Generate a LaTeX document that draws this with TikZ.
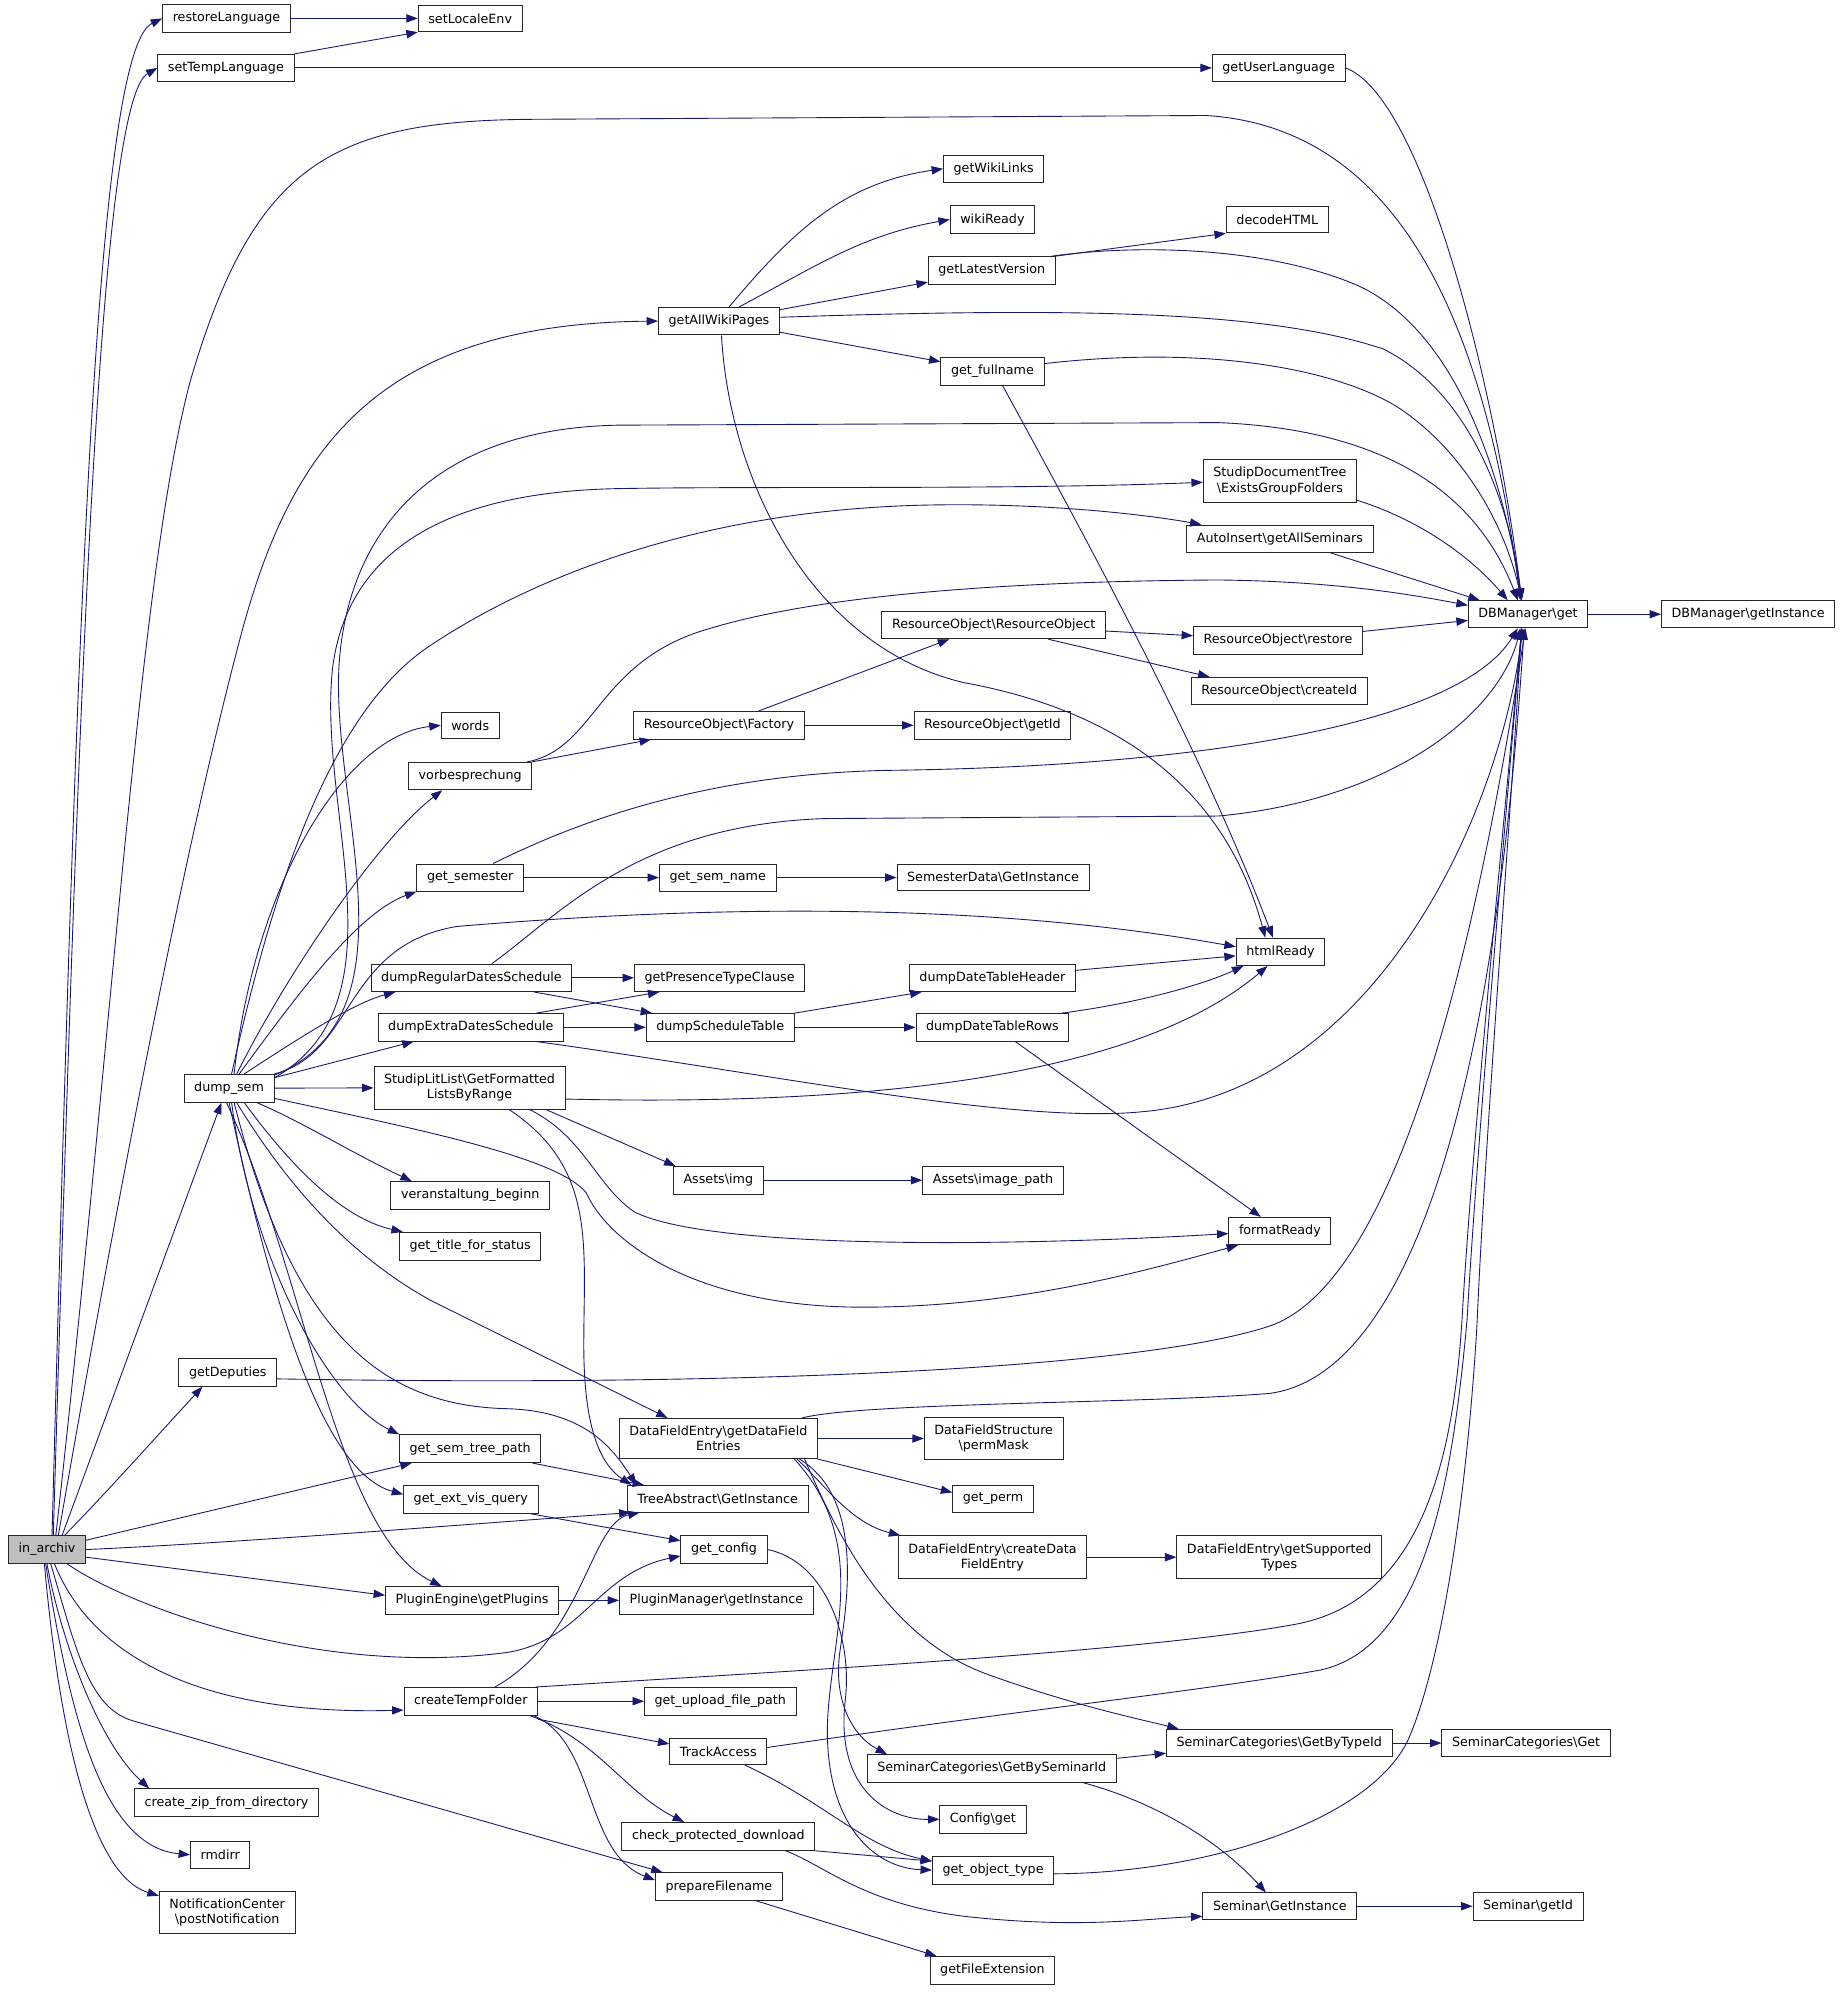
\documentclass[tikz,border=0pt]{standalone}
\usepackage{fontspec}
\setmainfont{DejaVu Sans}
\usepackage{xcolor}
\usetikzlibrary{arrows.meta}
\definecolor{callblue}{HTML}{191970}
\definecolor{rootgray}{HTML}{BFBFBF}

\begin{document}
\begin{tikzpicture}[x=1pt,y=1pt,
  fn/.style={draw=black!85,line width=0.7pt,fill=white,inner xsep=8pt,inner ysep=6pt,
    minimum height=21pt,align=center,font=\fontsize{10}{12}\selectfont},
  root/.style={fn,fill=rootgray},
  call/.style={draw=callblue,line width=0.7pt,-{Triangle[length=9pt,width=6.5pt]}}]
\useasboundingbox (0,0) rectangle (1456,-1572);
\fill[white] (0,0) rectangle (1456,-1572);

%Draw functions, column by column
\node[root] (inarchiv) at (37,-1221) {in\_archiv};

\node[fn] (restoreLang) at (178.5,-14.5) {restoreLanguage};
\node[fn] (setTempLang) at (178,-53.5) {setTempLanguage};
\node[fn] (dumpSem) at (180.5,-857.5) {dump\_sem};
\node[fn] (getDeputies) at (179.5,-1081.5) {getDeputies};
\node[fn] (createZip) at (178.5,-1420.5) {create\_zip\_from\_directory};
\node[fn] (rmdirr) at (173.5,-1461.5) {rmdirr};
\node[fn] (notifyPost) at (179,-1507) {NotificationCenter\\\textbackslash postNotification};

\node[fn] (setLocale) at (370.5,-14.5) {setLocaleEnv};
\node[fn] (words) at (370.5,-571.5) {words};
\node[fn] (vorbesp) at (370.5,-611.5) {vorbesprechung};
\node[fn] (getSemester) at (370.5,-691.5) {get\_semester};
\node[fn] (dumpRegular) at (371.5,-770.5) {dumpRegularDatesSchedule};
\node[fn] (dumpExtra) at (371,-809.5) {dumpExtraDatesSchedule};
\node[fn] (litList) at (370,-857) {StudipLitList\textbackslash GetFormatted\\ListsByRange};
\node[fn] (veranstBeginn) at (370.5,-942) {veranstaltung\_beginn};
\node[fn] (titleStatus) at (370.5,-982) {get\_title\_for\_status};
\node[fn] (semTreePath) at (370.5,-1141.5) {get\_sem\_tree\_path};
\node[fn] (extVisQuery) at (371,-1181.5) {get\_ext\_vis\_query};
\node[fn] (pluginsGet) at (372,-1261) {PluginEngine\textbackslash getPlugins};
\node[fn] (createTemp) at (371,-1340.5) {createTempFolder};

\node[fn] (getAllWiki) at (566.5,-253) {getAllWikiPages};
\node[fn] (resFactory) at (566.5,-571.5) {ResourceObject\textbackslash Factory};
\node[fn] (getSemName) at (565.5,-691.5) {get\_sem\_name};
\node[fn] (presenceClause) at (567,-770.5) {getPresenceTypeClause};
\node[fn] (scheduleTable) at (567.5,-809.5) {dumpScheduleTable};
\node[fn] (assetsImg) at (566,-930) {Assets\textbackslash img};
\node[fn] (dfEntries) at (566,-1133.5) {DataFieldEntry\textbackslash getDataField\\Entries};
\node[fn] (treeInst) at (565.5,-1181) {TreeAbstract\textbackslash GetInstance};
\node[fn] (getConfig) at (570.5,-1221) {get\_config};
\node[fn] (pluginMgr) at (564.5,-1261) {PluginManager\textbackslash getInstance};
\node[fn] (uploadPath) at (567.5,-1340.5) {get\_upload\_file\_path};
\node[fn] (trackAccess) at (566,-1380) {TrackAccess};
\node[fn] (checkDownload) at (566,-1447) {check\_protected\_download};
\node[fn] (prepFile) at (566.5,-1486.5) {prepareFilename};

\node[fn] (getWikiLinks) at (783,-133) {getWikiLinks};
\node[fn] (wikiReady) at (782,-173) {wikiReady};
\node[fn] (getLatestVer) at (781.5,-213) {getLatestVersion};
\node[fn] (getFullname) at (782,-292.5) {get\_fullname};
\node[fn] (resObj) at (783,-492.5) {ResourceObject\textbackslash ResourceObject};
\node[fn] (resGetId) at (782,-571.5) {ResourceObject\textbackslash getId};
\node[fn] (semData) at (782.5,-691.5) {SemesterData\textbackslash GetInstance};
\node[fn] (tableHeader) at (782,-770.5) {dumpDateTableHeader};
\node[fn] (tableRows) at (782,-809.5) {dumpDateTableRows};
\node[fn] (assetsPath) at (782.5,-930) {Assets\textbackslash image\_path};
\node[fn] (dfPermMask) at (783,-1133.5) {DataFieldStructure\\\textbackslash permMask};
\node[fn] (getPerm) at (782.5,-1181) {get\_perm};
\node[fn] (dfCreate) at (782,-1227) {DataFieldEntry\textbackslash createData\\FieldEntry};
\node[fn] (catBySem) at (781.5,-1393.5) {SeminarCategories\textbackslash GetBySeminarId};
\node[fn] (configGet) at (774.5,-1433.5) {Config\textbackslash get};
\node[fn] (objectType) at (782.5,-1473.5) {get\_object\_type};
\node[fn] (fileExt) at (782,-1552.5) {getFileExtension};

\node[fn] (getUserLang) at (1007.5,-53.5) {getUserLanguage};
\node[fn] (decodeHTML) at (1006.5,-173) {decodeHTML};
\node[fn] (docTree) at (1008.5,-379) {StudipDocumentTree\\\textbackslash ExistsGroupFolders};
\node[fn] (autoInsert) at (1008.5,-424.5) {AutoInsert\textbackslash getAllSeminars};
\node[fn] (resRestore) at (1007,-504.5) {ResourceObject\textbackslash restore};
\node[fn] (resCreateId) at (1008,-544.5) {ResourceObject\textbackslash createId};
\node[fn] (htmlReady) at (1009,-750) {htmlReady};
\node[fn] (formatReady) at (1008.5,-970) {formatReady};
\node[fn] (dfSupported) at (1008,-1227) {DataFieldEntry\textbackslash getSupported\\Types};
\node[fn] (catByType) at (1008,-1373.5) {SeminarCategories\textbackslash GetByTypeId};
\node[fn] (seminarInst) at (1008.5,-1502) {Seminar\textbackslash GetInstance};

\node[fn] (dbGet) at (1204,-484) {DBManager\textbackslash get};
\node[fn] (catGet) at (1202.5,-1373.5) {SeminarCategories\textbackslash Get};
\node[fn] (seminarId) at (1204,-1502) {Seminar\textbackslash getId};
\node[fn] (dbInst) at (1377.5,-484) {DBManager\textbackslash getInstance};

%Draw calls from in_archiv
\draw[call] ([xshift=4]inarchiv.north) .. controls (60,-500) and (75,-40) .. (restoreLang.west);
\draw[call] ([xshift=5]inarchiv.north) .. controls (62,-540) and (78,-80) .. (setTempLang.west);
\draw[call] ([xshift=7]inarchiv.north) .. controls (90,-800) and (110,-450) .. (150,-300) .. controls (200,-130) and (260,-95) .. (420,-94) -- (950,-91) .. controls (1100,-100) and (1170,-250) .. ([xshift=-6]dbGet.north);
\draw[call] ([xshift=9]inarchiv.north) .. controls (100,-900) and (150,-650) .. (190,-500) .. controls (230,-350) and (300,-255) .. (getAllWiki.west);
\draw[call] ([xshift=12]inarchiv.north) -- ([xshift=-6]dumpSem.south);
\draw[call] ([xshift=14]inarchiv.north) .. controls (85,-1175) and (125,-1130) .. ([xshift=-20]getDeputies.south);
\draw[call] ([yshift=-4]inarchiv.north east) -- ([xshift=10]semTreePath.south west);
\draw[call] (inarchiv.east) .. controls (200,-1215) and (380,-1200) .. ([xshift=3]treeInst.south west);
\draw[call] ([xshift=16]inarchiv.south) .. controls (100,-1265) and (250,-1322) .. (400,-1302) .. controls (460,-1292) and (470,-1240) .. ([yshift=-5]getConfig.west);
\draw[call] ([yshift=-6]inarchiv.east) -- ([yshift=4]pluginsGet.west);
\draw[call] ([xshift=6]inarchiv.south) .. controls (70,-1300) and (150,-1352) .. ([yshift=-7]createTemp.west);
\draw[call] ([xshift=3]inarchiv.south) .. controls (60,-1300) and (70,-1346) .. (105,-1356) -- ([xshift=6]prepFile.north west);
\draw[call] (inarchiv.south) .. controls (50,-1300) and (80,-1375) .. ([xshift=12]createZip.north west);
\draw[call] ([xshift=-1]inarchiv.south) .. controls (55,-1350) and (80,-1455) .. (rmdirr.west);
\draw[call] ([xshift=-2]inarchiv.south) .. controls (50,-1400) and (80,-1480) .. ([yshift=-4]notifyPost.north west);

%Draw language calls
\draw[call] (restoreLang) -- (setLocale);
\draw[call] (setTempLang.north east) -- (setLocale.south west);
\draw[call] (setTempLang) -- (getUserLang);
\draw[call] (getUserLang.east) .. controls (1120,-75) and (1178,-300) .. ([xshift=-5]dbGet.north);

%Draw wiki calls
\draw[call] ([xshift=8]getAllWiki.north) to[out=50,in=188] (getWikiLinks.west);
\draw[call] ([xshift=16]getAllWiki.north) to[out=28,in=190] (wikiReady.west);
\draw[call] (getAllWiki) -- (getLatestVer);
\draw[call] (getAllWiki) -- (getFullname);
\draw[call] ([yshift=3]getAllWiki.east) .. controls (850,-242) and (1000,-245) .. (1090,-275) .. controls (1160,-310) and (1190,-400) .. ([xshift=-5]dbGet.north);
\draw[call] ([xshift=2]getAllWiki.south) .. controls (575,-380) and (640,-510) .. (760,-538) .. controls (880,-560) and (965,-620) .. ([xshift=-12]htmlReady.north);
\draw[call] (getLatestVer.north east) -- (decodeHTML.south west);
\draw[call] ([xshift=-3]getLatestVer.north east) .. controls (900,-192) and (1000,-195) .. (1070,-225) .. controls (1150,-262) and (1185,-380) .. ([xshift=-5]dbGet.north);
\draw[call] ([yshift=6]getFullname.east) .. controls (950,-272) and (1050,-290) .. (1100,-320) .. controls (1150,-352) and (1185,-410) .. ([xshift=-5]dbGet.north);
\draw[call] ([xshift=8]getFullname.south) .. controls (870,-450) and (950,-600) .. ([xshift=-6]htmlReady.north);

%Draw resource calls
\draw[call] (vorbesp.north east) -- ([xshift=14]resFactory.south west);
\draw[call] ([xshift=-4]vorbesp.north east) .. controls (470,-590) and (470,-520) .. (560,-495) .. controls (650,-468) and (800,-458) .. (960,-457) .. controls (1050,-458) and (1110,-468) .. ([yshift=7]dbGet.west);
\draw[call] ([xshift=31]resFactory.north) -- ([xshift=-35]resObj.south);
\draw[call] (resFactory) -- (resGetId);
\draw[call] (resObj) -- (resRestore);
\draw[call] ([xshift=43]resObj.south) -- ([xshift=-55]resCreateId.north);
\draw[call] (resRestore) -- (dbGet);

%Draw calls from dump_sem going up
\draw[call] ([xshift=4]dumpSem.north) .. controls (200,-700) and (270,-580) .. (words.west);
\draw[call] ([xshift=6]dumpSem.north) .. controls (230,-760) and (300,-660) .. ([xshift=-22]vorbesp.south);
\draw[call] ([xshift=8]dumpSem.north) .. controls (230,-790) and (280,-720) .. (getSemester.south west);
\draw[call] ([xshift=12]dumpSem.north) .. controls (240,-815) and (280,-790) .. ([xshift=-60]dumpRegular.south);
\draw[call] ([xshift=2]dumpSem.north) .. controls (215,-700) and (260,-560) .. (340,-508) .. controls (420,-455) and (550,-402) .. (729,-398) .. controls (820,-396) and (900,-405) .. ([xshift=12]autoInsert.north west);
\draw[call] ([yshift=-1]dumpSem.north east) .. controls (330,-800) and (262,-640) .. (267,-527) .. controls (272,-430) and (330,-338) .. (487,-335) -- (960,-333) .. controls (1080,-338) and (1160,-380) .. ([xshift=-8]dbGet.north);
\draw[call] ([yshift=-3]dumpSem.north east) .. controls (320,-790) and (250,-640) .. (262,-527) .. controls (272,-445) and (335,-388) .. (487,-385) .. controls (600,-383) and (800,-386) .. ([yshift=-1]docTree.west);
\draw[call] (dumpSem.north east) .. controls (280,-830) and (270,-745) .. (360,-730) .. controls (600,-710) and (800,-715) .. ([yshift=4]htmlReady.west);
\draw[call] ([yshift=-3]dumpSem.north east) -- ([xshift=-45]dumpExtra.south);
\draw[call] (dumpSem) -- (litList);

%Draw calls from dump_sem going down
\draw[call] ([yshift=-8]dumpSem.east) .. controls (330,-890) and (440,-912) .. (462,-940) .. controls (480,-980) and (550,-1030) .. (680,-1030) .. controls (800,-1030) and (900,-1002) .. ([xshift=-33]formatReady.south);
\draw[call] ([xshift=22]dumpSem.south) .. controls (240,-885) and (280,-910) .. ([xshift=-46]veranstBeginn.north);
\draw[call] ([xshift=12]dumpSem.south) .. controls (230,-920) and (270,-960) .. ([xshift=3]titleStatus.north west);
\draw[call] ([xshift=6]dumpSem.south) .. controls (230,-940) and (280,-992) .. (340,-1025) -- ([xshift=-40]dfEntries.north);
\draw[call] ([xshift=2]dumpSem.south) .. controls (200,-1000) and (262,-1105) .. (semTreePath.north west);
\draw[call] (dumpSem.south) .. controls (215,-1030) and (255,-1160) .. ([yshift=4]extVisQuery.west);
\draw[call] ([xshift=-2]dumpSem.south) .. controls (240,-1000) and (265,-1210) .. ([xshift=-24]pluginsGet.north);
\draw[call] ([xshift=4]dumpSem.south) .. controls (230,-1050) and (300,-1108) .. (400,-1110) .. controls (460,-1112) and (482,-1140) .. ([xshift=-64]treeInst.north);

%Draw literature list calls
\draw[call] ([yshift=-9]litList.east) .. controls (700,-872) and (900,-845) .. ([xshift=25]htmlReady.south west);
\draw[call] ([xshift=60]litList.south) -- ([xshift=2]assetsImg.north west);
\draw[call] ([xshift=47]litList.south) .. controls (460,-895) and (470,-935) .. (500,-955) .. controls (560,-985) and (800,-982) .. ([yshift=-2]formatReady.west);
\draw[call] ([xshift=31]litList.south) .. controls (470,-920) and (460,-980) .. (460,-1060) .. controls (460,-1130) and (475,-1155) .. ([xshift=-68]treeInst.north);
\draw[call] (assetsImg) -- (assetsPath);

%Draw schedule calls
\draw[call] (dumpRegular) -- (presenceClause);
\draw[call] ([xshift=-30]dumpRegular.south east) -- ([xshift=5]scheduleTable.north west);
\draw[call] ([xshift=16]dumpRegular.north) .. controls (440,-722) and (500,-650) .. (650,-645) -- (960,-643) .. controls (1100,-630) and (1182,-560) .. ([xshift=-6]dbGet.south);
\draw[call] ([xshift=-22]dumpExtra.north east) -- ([xshift=20]presenceClause.south west);
\draw[call] (dumpExtra) -- (scheduleTable);
\draw[call] ([xshift=-22]dumpExtra.south east) .. controls (600,-845) and (800,-886) .. (900,-876) .. controls (1080,-860) and (1180,-650) .. ([xshift=-4]dbGet.south);
\draw[call] (scheduleTable.north east) -- ([xshift=10]tableHeader.south west);
\draw[call] (scheduleTable) -- (tableRows);
\draw[call] (tableHeader) -- (htmlReady);
\draw[call] ([xshift=-6]tableRows.north east) .. controls (900,-790) and (950,-775) .. ([xshift=6]htmlReady.south west);
\draw[call] ([xshift=18]tableRows.south) -- ([xshift=-15]formatReady.north);

%Draw semester calls
\draw[call] (getSemester) -- (getSemName);
\draw[call] (getSemName) -- (semData);
\draw[call] ([xshift=18]getSemester.north) .. controls (450,-650) and (550,-610) .. (700,-607) .. controls (950,-604) and (1150,-570) .. ([xshift=-8]dbGet.south);

%Draw remaining calls into DBManager
\draw[call] ([yshift=2]docTree.south east) .. controls (1120,-410) and (1160,-440) .. ([xshift=-16]dbGet.north);
\draw[call] ([xshift=40]autoInsert.south) -- ([xshift=-38]dbGet.north);
\draw[call] (dbGet) -- (dbInst);
\draw[call] ([yshift=-5]getDeputies.east) .. controls (600,-1093) and (900,-1078) .. (1000,-1045) .. controls (1110,-1008) and (1170,-700) .. ([xshift=-2]dbGet.south);
\draw[call] ([xshift=66]dfEntries.north) .. controls (680,-1105) and (900,-1106) .. (1000,-1098) .. controls (1100,-1085) and (1175,-900) .. ([xshift=-3]dbGet.south);
\draw[call] ([xshift=-2]createTemp.north east) .. controls (600,-1318) and (900,-1302) .. (1020,-1280) .. controls (1120,-1262) and (1145,-1150) .. (1152,-1040) .. controls (1160,-900) and (1185,-650) .. ([xshift=-5]dbGet.south);
\draw[call] ([yshift=3]trackAccess.east) .. controls (800,-1348) and (950,-1332) .. (1040,-1316) .. controls (1125,-1298) and (1145,-1160) .. (1156,-1040) .. controls (1164,-900) and (1186,-650) .. ([xshift=-5]dbGet.south);
\draw[call] ([yshift=-3]objectType.east) .. controls (950,-1476) and (1080,-1435) .. (1110,-1370) .. controls (1140,-1300) and (1158,-1150) .. (1164,-1040) .. controls (1170,-900) and (1190,-650) .. ([xshift=-5]dbGet.south);

%Draw data field calls
\draw[call] (dfEntries) -- (dfPermMask);
\draw[call] (dfEntries.south east) -- ([yshift=5]getPerm.west);
\draw[call] ([xshift=62]dfEntries.south) .. controls (650,-1170) and (670,-1200) .. ([xshift=2]dfCreate.north west);
\draw[call] ([xshift=68]dfEntries.south) .. controls (660,-1210) and (700,-1292) .. (780,-1320) .. controls (850,-1345) and (900,-1355) .. ([xshift=10]catByType.north west);
\draw[call] ([xshift=64]dfEntries.south) .. controls (680,-1180) and (668,-1260) .. (662,-1300) .. controls (656,-1340) and (672,-1368) .. ([xshift=16]catBySem.north west);
\draw[call] ([xshift=60]dfEntries.south) .. controls (690,-1220) and (650,-1300) .. (652,-1370) .. controls (654,-1440) and (690,-1472) .. (objectType.west);
\draw[call] (dfCreate) -- (dfSupported);

%Draw tree, config and plugin calls
\draw[call] ([xshift=-7]semTreePath.south east) -- ([xshift=-58]treeInst.north);
\draw[call] ([xshift=-6]extVisQuery.south east) -- ([yshift=7]getConfig.west);
\draw[call] (getConfig.east) .. controls (650,-1230) and (672,-1290) .. (666,-1340) .. controls (658,-1410) and (700,-1434) .. (configGet.west);
\draw[call] (pluginsGet) -- (pluginMgr);

%Draw temp folder calls
\draw[call] ([xshift=19]createTemp.north) .. controls (460,-1290) and (465,-1200) .. ([xshift=10]treeInst.south west);
\draw[call] (createTemp) -- (uploadPath);
\draw[call] ([yshift=-3]createTemp.south east) -- ([yshift=-5]trackAccess.north west);
\draw[call] ([xshift=-7]createTemp.south east) .. controls (470,-1370) and (492,-1412) .. ([xshift=-27]checkDownload.north);
\draw[call] ([xshift=-4]createTemp.south east) .. controls (470,-1372) and (460,-1460) .. ([yshift=5]prepFile.west);
\draw[call] ([xshift=21]trackAccess.south) .. controls (650,-1420) and (680,-1455) .. ([yshift=7]objectType.west);
\draw[call] (checkDownload.south east) -- ([yshift=7]objectType.west);
\draw[call] ([xshift=53]checkDownload.south) .. controls (650,-1470) and (680,-1500) .. (760,-1510) .. controls (850,-1520) and (900,-1512) .. ([yshift=-8]seminarInst.west);
\draw[call] ([xshift=29]prepFile.south) -- ([xshift=-44]fileExt.north);

%Draw seminar calls
\draw[call] ([yshift=8]catBySem.east) -- ([yshift=-8]catByType.west);
\draw[call] (catByType) -- (catGet);
\draw[call] ([xshift=72]catBySem.south) .. controls (910,-1420) and (960,-1450) .. ([xshift=-11]seminarInst.north);
\draw[call] (seminarInst) -- (seminarId);
\end{tikzpicture}
\end{document}
